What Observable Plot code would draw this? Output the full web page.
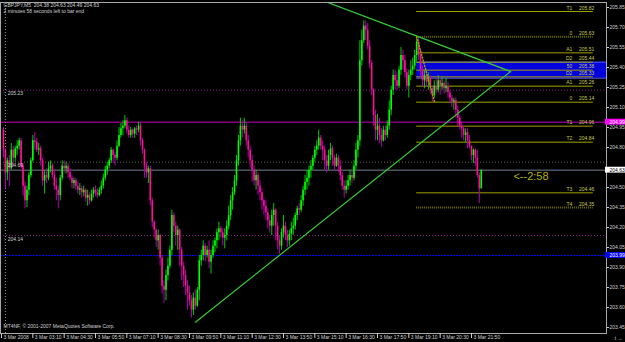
<!DOCTYPE html>
<html><head><meta charset="utf-8">
<script src="https://cdn.jsdelivr.net/npm/d3@7"></script>
<script src="https://cdn.jsdelivr.net/npm/@observablehq/plot@0.6"></script>
<style>
html,body{margin:0;padding:0;background:#000;}
#chart{width:625px;height:342px;overflow:hidden;}
</style></head><body><div id="chart"></div>
<script>
// ---- text ----
const symbolTitle = "GBPJPY,M5  204.38 204.63 204.49 204.63";
const timerText = "2 minutes 58 seconds left to bar end";
const copyrightText = "MT4NF, \u00a9 2001-2007 MetaQuotes Software Corp.";
const clockText = "<--2:58";

// ---- bars (M5, minutes after midnight of 3 Mar 2008) ----
const barStart = 115;   // 01:55
const barMinutes = 5;
const firstOpen = 204.93;
const closes = [
204.78,204.61,204.70,204.64,204.78,204.72,204.79,204.81,204.85,204.66,
204.51,204.40,204.48,204.59,204.70,204.85,204.84,204.78,204.79,204.70,
204.55,204.59,204.57,204.64,204.66,204.59,204.51,204.48,204.44,204.57,
204.66,204.64,204.66,204.61,204.57,204.53,204.55,204.51,204.48,204.49,
204.46,204.48,204.42,204.44,204.40,204.45,204.48,204.46,204.44,204.48,
204.51,204.57,204.63,204.66,204.70,204.78,204.74,204.72,204.81,204.89,
204.94,204.96,205.00,204.93,204.89,204.93,204.90,204.94,204.93,204.96,
204.85,204.78,204.66,204.61,204.64,204.40,204.24,204.18,204.10,204.14,
203.97,203.76,203.73,203.84,203.91,204.03,204.29,204.21,204.14,204.18,
204.03,203.91,203.84,203.76,203.71,203.65,203.58,203.67,203.61,203.73,
203.95,203.99,204.06,203.99,204.03,203.94,203.99,204.06,204.10,204.16,
204.19,204.16,204.12,204.14,204.21,204.29,204.40,204.46,204.55,204.70,
204.85,204.96,204.93,204.96,204.85,204.78,204.70,204.63,204.55,204.59,
204.51,204.46,204.40,204.36,204.31,204.25,204.21,204.29,204.33,204.21,
204.10,204.06,204.16,204.21,204.14,204.10,204.15,204.19,204.21,204.29,
204.34,204.33,204.40,204.48,204.54,204.57,204.63,204.66,204.72,204.78,
204.81,204.87,204.81,204.78,204.70,204.66,204.74,204.79,204.72,204.66,
204.72,204.66,204.59,204.51,204.48,204.51,204.55,204.59,204.57,204.66,
204.78,204.85,205.45,205.60,205.71,205.68,205.56,205.43,205.23,205.04,
204.93,204.96,204.89,204.85,204.93,204.89,204.96,205.08,205.23,205.34,
205.30,205.26,205.38,205.49,205.45,205.36,205.26,205.34,205.38,205.41,
205.49,205.59,205.49,205.38,205.30,205.34,205.29,205.32,205.24,205.19,
205.26,205.23,205.30,205.26,205.28,205.24,205.26,205.21,205.17,205.14,
205.15,205.08,205.02,204.96,204.94,204.89,204.91,204.85,204.81,204.74,
204.78,204.72,204.59,204.49,204.63];
const highs = [
204.95,204.79,204.72,204.74,204.83,204.81,204.81,204.85,204.87,204.87,
204.68,204.54,204.51,204.61,204.72,204.89,204.91,204.87,204.83,204.81,
204.72,204.63,204.64,204.69,204.70,204.68,204.63,204.57,204.51,204.59,
204.70,204.70,204.69,204.68,204.64,204.59,204.57,204.57,204.54,204.53,
204.51,204.51,204.49,204.48,204.46,204.48,204.50,204.51,204.49,204.50,
204.55,204.60,204.66,204.69,204.72,204.80,204.79,204.76,204.85,204.95,
204.98,205.00,205.04,205.02,204.96,204.95,204.94,204.95,204.96,204.99,
204.98,204.87,204.79,204.69,204.66,204.66,204.42,204.25,204.19,204.18,
204.15,203.99,203.80,203.88,203.97,204.06,204.33,204.31,204.24,204.21,
204.19,204.05,203.94,203.88,203.80,203.76,203.69,203.71,203.73,203.75,
203.99,204.03,204.10,204.08,204.06,204.10,204.03,204.10,204.12,204.19,
204.24,204.21,204.19,204.19,204.25,204.36,204.44,204.50,204.59,204.74,
204.89,205.02,205.00,205.02,204.99,204.89,204.81,204.74,204.66,204.63,
204.61,204.55,204.49,204.42,204.40,204.34,204.29,204.33,204.38,204.34,
204.24,204.14,204.19,204.29,204.24,204.18,204.18,204.24,204.27,204.31,
204.36,204.38,204.44,204.51,204.59,204.63,204.66,204.70,204.74,204.81,
204.85,204.93,204.89,204.85,204.81,204.74,204.78,204.83,204.81,204.74,
204.75,204.74,204.70,204.61,204.55,204.55,204.59,204.63,204.63,204.70,
204.83,204.89,205.60,205.68,205.75,205.75,205.73,205.60,205.45,205.24,
205.08,205.05,205.02,204.94,204.96,204.96,205.00,205.15,205.26,205.38,
205.38,205.36,205.41,205.55,205.53,205.49,205.39,205.38,205.45,205.47,
205.53,205.63,205.62,205.53,205.41,205.38,205.36,205.36,205.34,205.26,
205.30,205.32,205.34,205.33,205.33,205.30,205.32,205.29,205.23,205.19,
205.17,205.17,205.11,205.04,204.99,204.96,204.94,204.94,204.89,204.81,
204.79,204.79,204.78,204.61,204.63];
const lows = [
204.72,204.48,204.55,204.51,204.63,204.65,204.69,204.74,204.78,204.64,
204.44,204.34,204.35,204.44,204.57,204.69,204.78,204.76,204.74,204.66,
204.51,204.45,204.53,204.55,204.61,204.57,204.48,204.40,204.34,204.40,
204.55,204.61,204.60,204.57,204.55,204.49,204.49,204.48,204.45,204.44,
204.42,204.43,204.39,204.36,204.37,204.39,204.42,204.43,204.42,204.43,
204.45,204.49,204.55,204.59,204.64,204.68,204.68,204.66,204.70,204.80,
204.87,204.89,204.94,204.90,204.87,204.87,204.87,204.87,204.89,204.91,
204.81,204.75,204.57,204.57,204.53,204.36,204.20,204.12,204.05,204.03,
203.91,203.70,203.63,203.65,203.80,203.89,203.99,204.16,204.06,204.03,
203.91,203.80,203.75,203.69,203.58,203.61,203.52,203.54,203.58,203.60,
203.65,203.91,203.95,203.94,203.97,203.89,203.85,203.97,204.01,204.04,
204.10,204.12,204.06,204.04,204.10,204.18,204.25,204.33,204.44,204.51,
204.66,204.81,204.87,204.90,204.81,204.72,204.65,204.54,204.51,204.48,
204.44,204.40,204.33,204.29,204.25,204.19,204.16,204.14,204.21,204.10,
204.03,204.00,204.03,204.12,204.10,204.05,204.06,204.10,204.14,204.18,
204.25,204.29,204.31,204.36,204.44,204.48,204.51,204.57,204.63,204.69,
204.74,204.78,204.78,204.70,204.63,204.61,204.63,204.70,204.66,204.63,
204.65,204.61,204.55,204.48,204.42,204.45,204.48,204.51,204.53,204.55,
204.63,204.72,204.81,205.41,205.58,205.60,205.53,205.39,205.19,204.96,
204.85,204.85,204.83,204.80,204.84,204.85,204.87,204.93,205.04,205.19,
205.23,205.23,205.24,205.34,205.38,205.32,205.23,205.17,205.30,205.34,
205.38,205.44,205.45,205.32,205.25,205.24,205.25,205.23,205.20,205.14,
205.17,205.20,205.21,205.19,205.23,205.20,205.21,205.17,205.13,205.10,
205.08,205.02,204.96,204.93,204.87,204.85,204.83,204.79,204.79,204.70,
204.68,204.66,204.57,204.38,204.49];

// ---- axes ----
const xTickMinutes = [110,190,270,350,430,510,590,670,750,830,910,990,1070,1150,1230,1310];
const xTickLabels = ["3 Mar 2008","3 Mar 03:10","3 Mar 04:30","3 Mar 05:50","3 Mar 07:10","3 Mar 08:30",
  "3 Mar 09:50","3 Mar 11:10","3 Mar 12:30","3 Mar 13:50","3 Mar 15:10","3 Mar 16:30","3 Mar 17:50",
  "3 Mar 19:10","3 Mar 20:30","3 Mar 21:50"];
const yTicks = [203.45,203.60,203.75,203.90,204.05,204.20,204.35,204.50,204.65,204.80,204.95,205.10,205.25,205.40,205.55,205.70,205.85];
// 204.65 is covered by the bid price tag in the reference
const yTickLabels = ["203.45","203.60","203.75","203.90","204.05","204.20","204.35","204.50","","204.80","204.95","205.10","205.25","205.40","205.55","205.70","205.85"];

// ---- objects ----
const separatorMinutes = [120];
const hLineDotPurple = [205.23, 204.14];
const hLineDotOlive = [204.69];
const hLineLabels = ["205.23", "204.69", "204.14"];
const hLineLabelPrices = [205.23, 204.69, 204.14];
const magentaLine = 204.99;
const bidLine = 204.63;
const blueLine = 203.99;
const priceTagPrices = [204.99, 204.63, 203.99];
const priceTagFill = ["#ff00ff", "#ffffff", "#0000ff"];
const priceTagText = ["#ffffff", "#000000", "#ffffff"];

const fibNames  = ["T1","0","A1","D2","50","D2","A1","0","T1","T2","T3","T4"];
const fibLevels = [205.82,205.63,205.51,205.44,205.38,205.33,205.26,205.14,204.96,204.84,204.46,204.35];
const fibDotted = [false,true,false,false,false,false,false,false,false,false,false,true];
const fibStart = 1170, fibEnd = 1621;
const zoneTop = 205.44, zoneBottom = 205.32, zoneEnd = 1655;

const trendDownT = [941, 1410], trendDownP = [205.89, 205.37];
const trendUpT = [605, 1410], trendUpP = [203.49, 205.37];
const swingT = [1170, 1216], swingP = [205.63, 205.14];
const clockT = 1417, clockP = 204.58;

// ---- build ----
const bars = closes.map((c, i) => {
  const o = i === 0 ? firstOpen : closes[i - 1];
  return {t: barStart + i * barMinutes, o, c, h: Math.max(highs[i], o, c), l: Math.min(lows[i], o, c), up: c >= o};
});
const bull = bars.filter(d => d.up), bear = bars.filter(d => !d.up);
const fibs = fibLevels.map((p, i) => ({p, name: fibNames[i], dotted: fibDotted[i]}));
const tags = priceTagPrices.map((p, i) => ({p, bg: priceTagFill[i], fg: priceTagText[i]}));
const xMax = 1654.7;

const FONT = "'Liberation Sans', Arial, sans-serif";
const txt = "#d0d0d0";
const olive = "#a0a000";
const oliveText = "#c8c850";

const chart = Plot.plot({
  width: 625, height: 342,
  marginLeft: 0, marginRight: 19, marginTop: 2, marginBottom: 9,
  style: {background: "#000", color: txt, fontFamily: FONT, fontSize: "5px", overflow: "visible"},
  x: {domain: [107.45, xMax], axis: null},
  y: {domain: [203.405, 205.8875], axis: null},
  marks: [
    Plot.rect([0], {x1: fibStart, x2: zoneEnd, y1: zoneBottom, y2: zoneTop, fill: "#0000dd"}),
    Plot.ruleY([zoneTop, zoneBottom], {x1: fibStart, x2: zoneEnd, stroke: "#5a5aff", strokeWidth: 1}),
    Plot.ruleX(separatorMinutes, {stroke: "#9a9a9a", strokeDasharray: "1,2"}),
    Plot.ruleY(hLineDotPurple, {stroke: "#8a1a8a", strokeDasharray: "1,2"}),
    Plot.ruleY(hLineDotOlive, {stroke: "#557040", strokeDasharray: "1,2"}),
    Plot.ruleY([magentaLine], {stroke: "#c000c0"}),
    Plot.ruleY([bidLine], {stroke: "#708090"}),
    Plot.ruleY([blueLine], {stroke: "#0000ff", strokeDasharray: "2,1"}),
    // fibonacci / target levels
    Plot.ruleY(fibs.filter(d => !d.dotted), {y: "p", x1: fibStart, x2: fibEnd, stroke: olive}),
    Plot.ruleY(fibs.filter(d => d.dotted), {y: "p", x1: fibStart, x2: fibEnd, stroke: "#6e6e00", strokeWidth: 2, strokeDasharray: "1,1"}),
    Plot.text(fibs, {x: fibEnd, y: "p", text: "name", textAnchor: "end", dx: -21, dy: -3.5, fill: oliveText, fontSize: 5}),
    Plot.text(fibs, {x: fibEnd, y: "p", text: d => d.p.toFixed(2), textAnchor: "end", dx: 1, dy: -3.5, fill: oliveText, fontSize: 5}),
    // candles
    Plot.ruleX(bull, {x: "t", y1: "l", y2: "h", stroke: "#00c800", strokeWidth: 1}),
    Plot.ruleX(bear, {x: "t", y1: "l", y2: "h", stroke: "#b000b0", strokeWidth: 1}),
    Plot.ruleX(bull, {x: "t", y1: "o", y2: "c", stroke: "#00ff00", strokeWidth: 1.6}),
    Plot.ruleX(bear, {x: "t", y1: "o", y2: "c", stroke: "#ff1090", strokeWidth: 1.6}),
    // trend lines
    Plot.line(trendDownT.map((t, i) => ({t, p: trendDownP[i]})), {x: "t", y: "p", stroke: "#33cc33", strokeWidth: 1.2, clip: true}),
    Plot.line(trendUpT.map((t, i) => ({t, p: trendUpP[i]})), {x: "t", y: "p", stroke: "#33cc33", strokeWidth: 1.2}),
    Plot.line(swingT.map((t, i) => ({t, p: swingP[i]})), {x: "t", y: "p", stroke: "#a0a000", strokeDasharray: "1,2"}),
    // labels of horizontal lines
    Plot.text(hLineLabels, {x: 110, y: (d, i) => hLineLabelPrices[i], text: d => ":  " + d, textAnchor: "start", dx: 2, dy: 3.5, fill: txt, fontSize: 5}),
    Plot.text([clockText], {x: clockT, y: clockP, textAnchor: "start", fill: "#b4b400", fontSize: 11}),
    // frame + axes
    Plot.frame({stroke: "#a8a8a8"}),
    Plot.axisY({anchor: "right", ticks: yTicks, tickSize: 2, tickPadding: 1, tickFormat: (d, i) => yTickLabels[yTicks.indexOf(d)], color: txt, fontSize: 5}),
    Plot.axisX({anchor: "bottom", ticks: xTickMinutes, tickSize: 5, tickFormat: () => "", color: txt}),
    Plot.text(xTickMinutes, {x: d => d, frameAnchor: "bottom", text: (d, i) => xTickLabels[i], textAnchor: "start", dx: 2, dy: 5, fill: txt, fontSize: 5}),
    // price tags
    Plot.rect(tags, {x1: xMax, x2: xMax, y1: d => d.p - 0.022, y2: d => d.p + 0.022, insetLeft: -1, insetRight: -19, fill: "bg"}),
    Plot.text(tags, {x: xMax, y: "p", text: d => d.p.toFixed(2), textAnchor: "start", dx: 3, fill: "fg", fontSize: 5}),
    // overlays
    Plot.text([symbolTitle], {frameAnchor: "top-left", dx: 3, dy: 3, lineAnchor: "middle", fill: txt, fontSize: 5}),
    Plot.text([timerText], {frameAnchor: "top-left", dx: 3, dy: 9, lineAnchor: "middle", fill: txt, fontSize: 5}),
    Plot.text([copyrightText], {frameAnchor: "bottom-left", dx: 3, dy: -7, lineAnchor: "middle", fill: txt, fontSize: 5})
  ]
});
document.getElementById("chart").appendChild(chart);
</script></body></html>
